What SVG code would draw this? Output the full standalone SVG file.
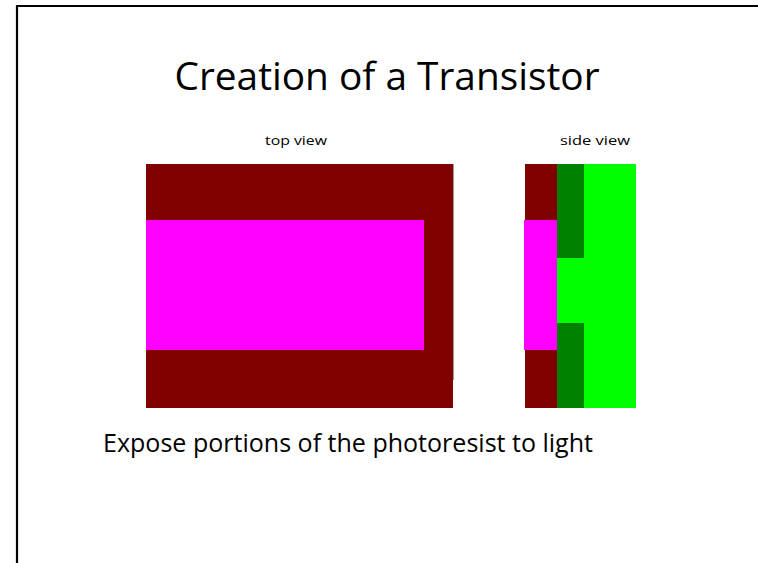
<svg xmlns="http://www.w3.org/2000/svg" width="758" height="563" viewBox="0 0 758 563">
<style>
.t{font-family:"Open Sans","Liberation Sans",sans-serif;fill:#000}
.brown{fill:#800000}.mag{fill:#FF00FF}.dg{fill:#008000}.lg{fill:#00FF00}
</style>
<rect width="758" height="563" fill="#fff"/>
<g id="frame">
<path d="M17 563 V6 H758" fill="none" stroke="#000" stroke-width="2.2"/>
</g>
<g id="title"><text class="t" x="387" y="90" font-size="38" text-anchor="middle" textLength="425" lengthAdjust="spacingAndGlyphs">Creation of a Transistor</text></g>
<g id="top-view">
<text class="t" x="296" y="145" font-size="13" text-anchor="middle" textLength="62" lengthAdjust="spacingAndGlyphs">top view</text>
<rect class="brown" x="146" y="164" width="307" height="244"/>
<rect class="mag" x="146" y="220" width="278" height="130"/>
<line x1="453.5" y1="164" x2="453.5" y2="380" stroke="#999" stroke-width="1"/>
</g>
<g id="side-view">
<text class="t" x="595" y="145" font-size="13" text-anchor="middle" textLength="70" lengthAdjust="spacingAndGlyphs">side view</text>
<rect class="lg" x="557" y="164" width="79" height="244"/>
<rect class="brown" x="525" y="164" width="32" height="244"/>
<rect class="mag" x="524" y="220" width="33" height="130"/>
<rect class="dg" x="557" y="164" width="27" height="94"/>
<rect class="dg" x="557" y="323" width="27" height="85"/>
</g>
<g id="caption"><text class="t" x="348" y="452" font-size="25" text-anchor="middle" textLength="490" lengthAdjust="spacingAndGlyphs">Expose portions of the photoresist to light</text></g>
</svg>
